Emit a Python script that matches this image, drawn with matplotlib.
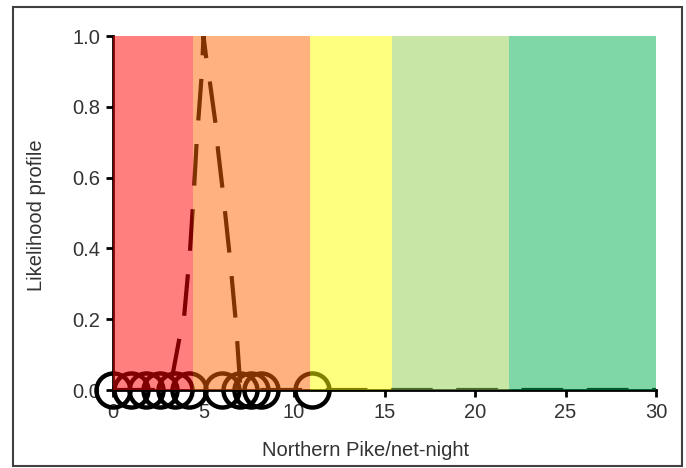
import numpy as np
import matplotlib
matplotlib.use("Agg")
import matplotlib.pyplot as plt
from matplotlib.patches import Rectangle

plt.rcParams['font.family'] = ['Liberation Sans', 'DejaVu Sans']
plt.rcParams['lines.scale_dashes'] = False

# likelihood profile
prof_x = [0, 3.0, 3.31, 3.65, 3.92, 4.25, 4.49, 4.62, 4.71, 4.9, 5.0,
          5.17, 5.36, 5.69, 5.80, 6.08, 6.46, 6.80, 7.02, 7.4, 10, 15, 20, 25, 30]
prof_y = [0, 0.0, 0.048, 0.141, 0.203, 0.39, 0.579, 0.698, 0.76, 0.89, 1.0,
          0.93, 0.867, 0.743, 0.678, 0.556, 0.373, 0.184, 0.02, 0.0, 0, 0, 0, 0, 0]

# observed catches per net-night
obs_x = [0, 1, 1.8, 2.6, 3.4, 4.2, 6, 7, 7.6, 8.2, 11]
obs_y = [0] * len(obs_x)

# status bands
band_edges = [0, 4.42, 10.88, 15.4, 21.9, 30]
band_colors = ["#FF0000", "#FF6600", "#FFFF00", "#92D050", "#00B050"]

fig = plt.figure(figsize=(6.86, 4.68), dpi=100)
ax = fig.add_axes([113 / 686, 78 / 468, 543 / 686, 354 / 468])

ax.plot(prof_x, prof_y, color="black", lw=3, dashes=(30, 17), zorder=2)
ax.plot(obs_x, obs_y, "o", ms=24.5, mfc="none", mec="black", mew=3.2,
        clip_on=False, zorder=2)

for i, c in enumerate(band_colors):
    ax.axvspan(band_edges[i], band_edges[i + 1], color=c, alpha=0.5, lw=0, zorder=3)

ax.set_xlim(0, 30)
ax.set_ylim(0, 1.0)
ax.set_xticks(np.arange(0, 31, 5))
ax.set_yticks(np.arange(0, 1.01, 0.2))
ax.set_yticklabels([f"{v:.1f}" for v in np.arange(0, 1.01, 0.2)])
ax.tick_params(labelsize=14.5, labelcolor="#333333", color="black",
               length=5, width=2, pad=4)
for s in ["top", "right"]:
    ax.spines[s].set_visible(False)
for s in ["left", "bottom"]:
    ax.spines[s].set_linewidth(2)
    ax.spines[s].set_zorder(2.5)

fig.text(366 / 686, 1 - 451 / 468, "Northern Pike/net-night", ha="center", va="center",
         fontsize=14.5, color="#333333")
fig.text(37 / 686, 1 - 215 / 468, "Likelihood profile", ha="center", va="center",
         rotation=90, fontsize=14.5, color="#333333")

fig.patches.append(Rectangle((13 / 686, 1 - 466 / 468), 669 / 686, 459 / 468,
                             transform=fig.transFigure, fill=False,
                             edgecolor="#404040", lw=1.5))

fig.savefig("out.png", dpi=100)
